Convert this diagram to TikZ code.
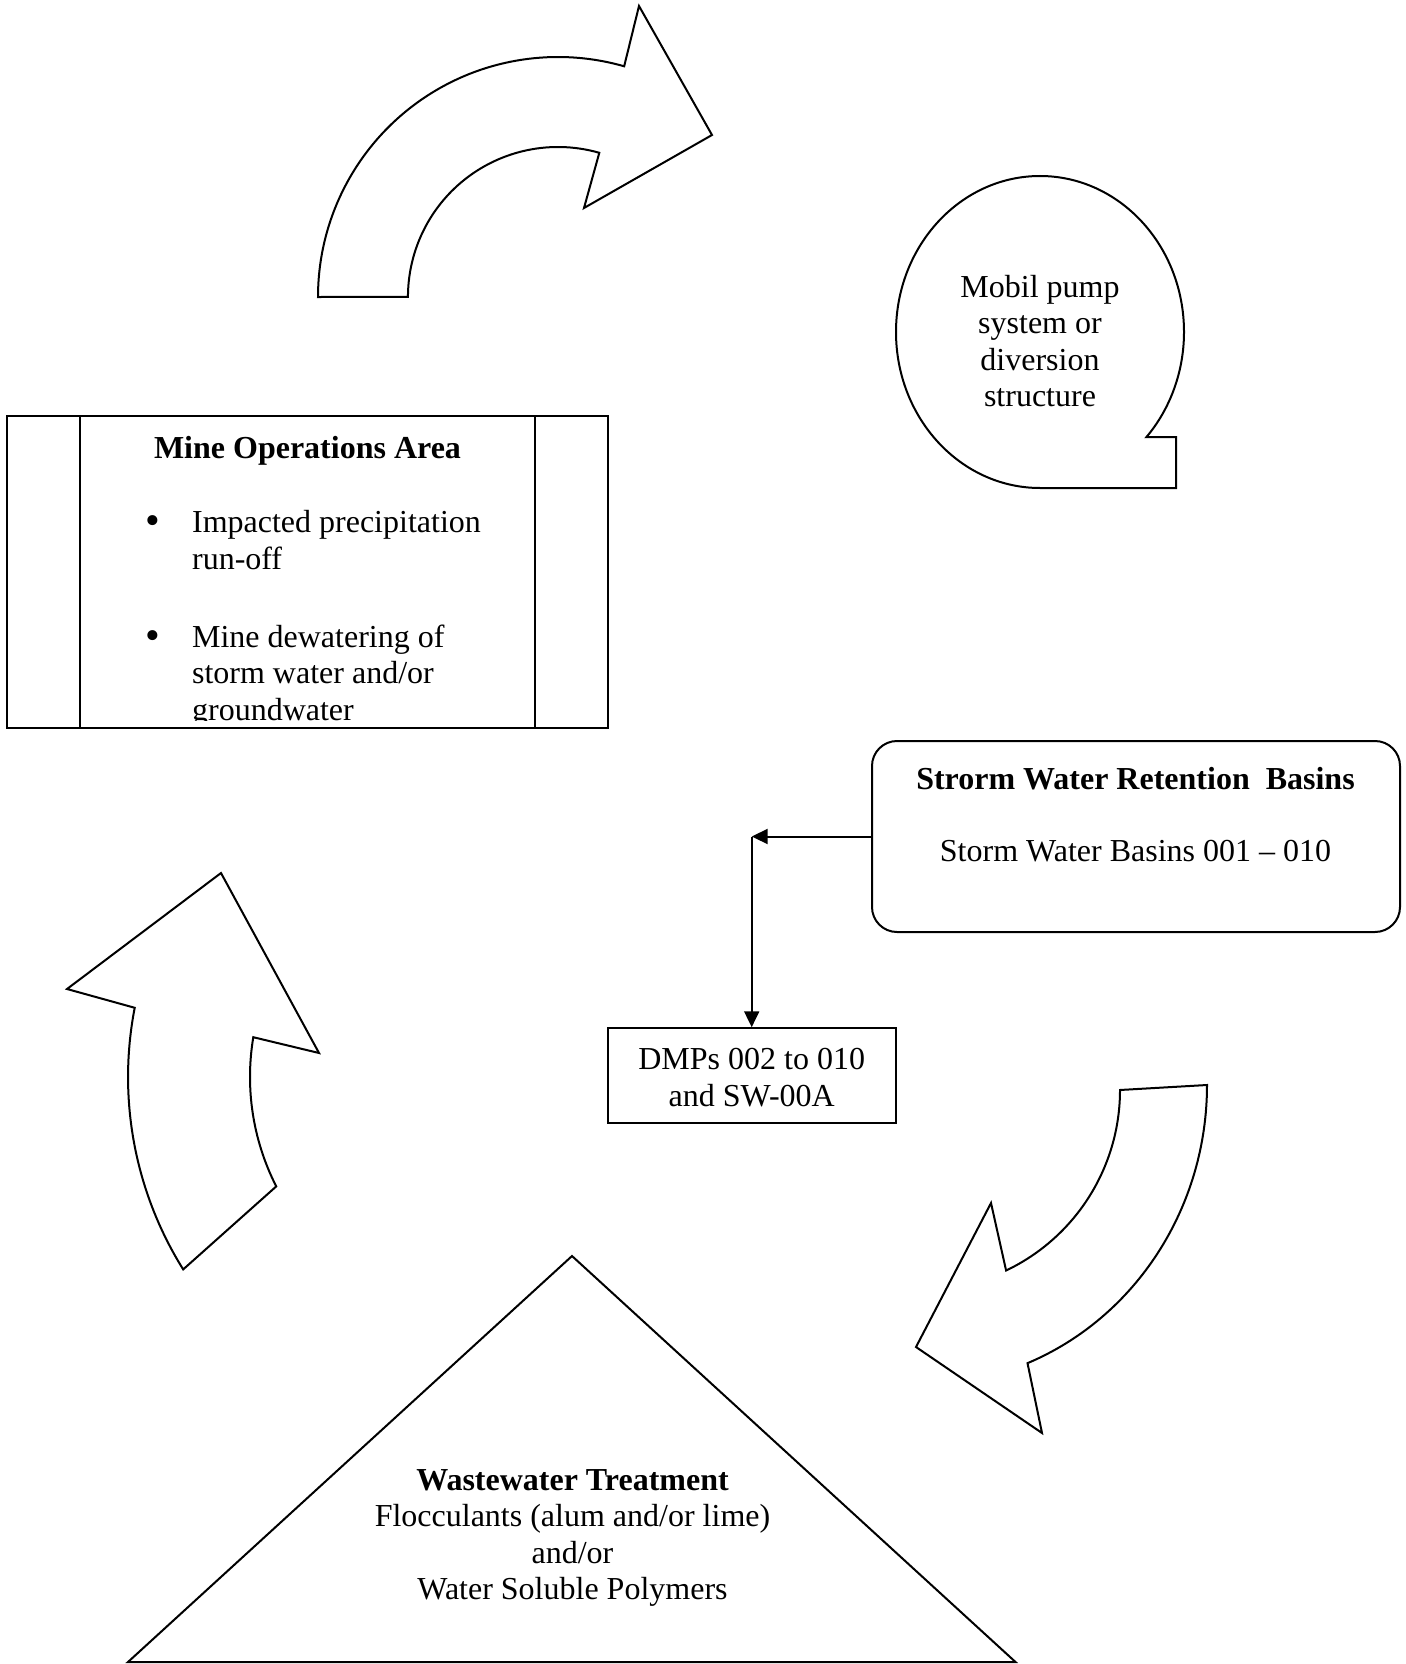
\documentclass[tikz,border=0pt]{standalone}
\usepackage{fontspec}
\setmainfont{Liberation Serif}
\usetikzlibrary{arrows.meta}
\begin{document}
\begin{tikzpicture}[x=0.5pt,y=-0.5pt,
  outline/.style={draw=black,line width=1pt,line join=miter},
  txt/.style={inner sep=0pt,anchor=base,align=center,font=\fontsize{16pt}{18.25pt}\selectfont},
  txtl/.style={inner sep=0pt,anchor=base west,align=left,font=\fontsize{16pt}{18.25pt}\selectfont},
  bul/.style={inner sep=0pt,anchor=base,font=\fontsize{21pt}{21pt}\selectfont},
  conn/.style={line width=1pt,-{Triangle[length=8pt,width=7.5pt]}}]
\useasboundingbox (0,0) rectangle (1406,1664);

% top curved arrow
\draw[outline] (318,297) arc[start angle=180,end angle=286,radius=240]
  -- (639,6) -- (712,135) -- (584,208) -- (599.3,152.8)
  arc[start angle=286,end angle=180,radius=150] -- cycle;

% bottom-right curved arrow
\draw[outline] (1207,1085) arc[start angle=0,end angle=68,x radius=287,y radius=300]
  -- (1042,1433) -- (916,1347) -- (991,1203) -- (1006.1,1270.5)
  arc[start angle=64.5,end angle=0,radius=200] -- cycle;

% left curved arrow
\draw[outline] (183.2,1269.4) arc[start angle=148,end angle=191,radius=363]
  -- (67,989) -- (221,873) -- (319,1053) -- (253.3,1037.2)
  arc[start angle=189.5,end angle=153,radius=241] -- cycle;

% mobil pump shape
\draw[outline] (1040,488) arc[start angle=90,end angle=402.4,x radius=144,y radius=156]
  -- (1176,437.2) -- (1176,488) -- cycle;
\node[txt] (pump) at (1040,406.5) {Mobil pump\\system or\\diversion\\structure};

% mine operations area
\draw[outline] (7.3,415.7) rectangle (607.7,728);
\draw[outline] (80,415.7) -- (80,728);
\draw[outline] (535,415.7) -- (535,728);
\node[txt] (minetitle) at (307.5,458) {\textbf{Mine Operations Area}};
\node[bul] (b1) at (153,534.5) {•};
\node[txtl] (item1) at (191.7,569) {Impacted precipitation\\run-off};
\node[bul] (b2) at (153,649) {•};
\begin{scope}
\clip (7.3,415.7) rectangle (607.7,720);
\node[txtl] (item2) at (191.7,720) {Mine dewatering of\\storm water and/or\\groundwater};
\end{scope}

% storm water retention basins
\node[draw,line width=1pt,rounded corners=12.5pt,minimum width=264pt,minimum height=95.5pt,inner sep=0pt] (storm) at (1136,836.5) {};
\node[txt] (stormtitle) at (1135.5,789) {\textbf{Strorm Water Retention\ \ Basins}};
\node[txt] (stormsub) at (1135.5,861) {Storm Water Basins 001 – 010};

% DMP box
\node[draw,line width=1pt,minimum width=144pt,minimum height=47.25pt,inner sep=0pt] (dmp) at (751.7,1075.5) {};
\node[txt] (dmptext) at (751.7,1106) {DMPs 002 to 010\\and SW-00A};

\coordinate (corner) at (751.7,836.5);
\draw[conn] (storm.west) -- (corner);
\draw[conn] (corner) -- (dmp.north);

% wastewater treatment triangle
\draw[outline] (572,1256) -- (1015.5,1662) -- (128,1662) -- cycle;
\node[txt] (wwt) at (572.5,1599.5) {\textbf{Wastewater Treatment}\\Flocculants (alum and/or lime)\\and/or\\Water Soluble Polymers};
\end{tikzpicture}
\end{document}
